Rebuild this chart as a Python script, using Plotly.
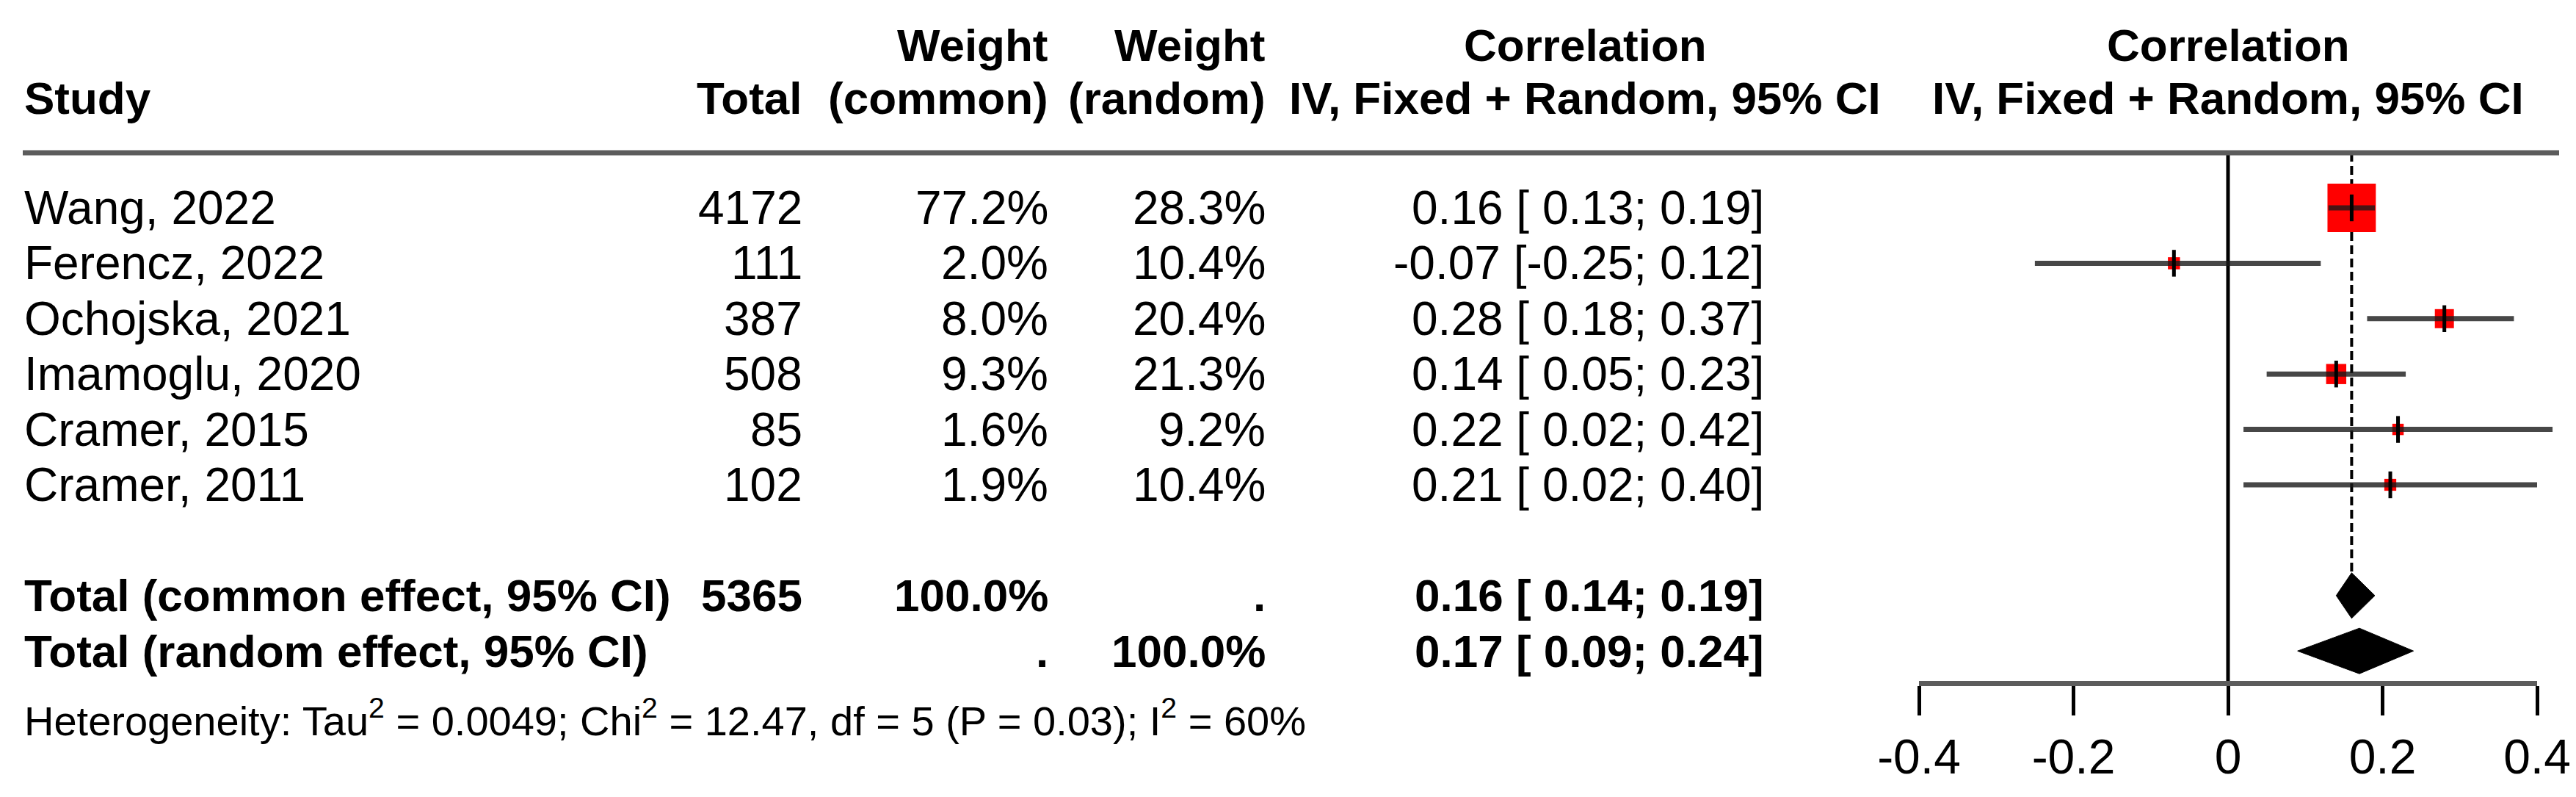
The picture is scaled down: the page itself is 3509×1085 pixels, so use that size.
import math
import plotly.graph_objects as go

# ---------------- data ----------------
studies = ["Wang, 2022", "Ferencz, 2022", "Ochojska, 2021", "Imamoglu, 2020", "Cramer, 2015", "Cramer, 2011"]
totals = [4172, 111, 387, 508, 85, 102]
w_common = [77.2, 2.0, 8.0, 9.3, 1.6, 1.9]
w_random = [28.3, 10.4, 20.4, 21.3, 9.2, 10.4]
est = [0.16, -0.07, 0.28, 0.14, 0.22, 0.21]
lo = [0.13, -0.25, 0.18, 0.05, 0.02, 0.02]
hi = [0.19, 0.12, 0.37, 0.23, 0.42, 0.40]

pooled_labels = ["Total (common effect, 95% CI)", "Total (random effect, 95% CI)"]
pooled_total = ["5365", ""]
pooled_wc = ["100.0%", "."]
pooled_wr = [".", "100.0%"]
pooled_est = [0.16, 0.17]
pooled_lo = [0.14, 0.09]
pooled_hi = [0.19, 0.24]

tick_vals = [-0.4, -0.2, 0, 0.2, 0.4]
tick_text = ["-0.4", "-0.2", "0", "0.2", "0.4"]

heterogeneity = ("Heterogeneity: Tau<sup>2</sup> = 0.0049; Chi<sup>2</sup> = 12.47, "
                 "df = 5 (P = 0.03); I<sup>2</sup> = 60%")

# ---------------- layout geometry ----------------
W, H = 3509, 1085
X0_PX, PPU = 3027, 1052.5          # pixel of x=0 and pixels per unit
ROW0_PX, ROW_PX = 275, 75.4        # pixel of first study row, row spacing


def R(px):
    return (px - ROW0_PX) / ROW_PX


def P(px):
    return px / W


FONT = "Liberation Sans, Arial, sans-serif"
REG, BOLD, SMALL = 64, 62, 56

n = len(studies)
rows = list(range(n))
pooled_rows = [n + 1, n + 2]
r_h1, r_h2, r_line = R(53), R(125), R(200)
r_axis = R(922)
r_het = R(969)
dia_half = 31 / ROW_PX

col_study = P(23)
col_total = P(1087)
col_wc = P(1422)
col_wr = P(1718)
col_ci = P(2397)
col_ci_head = P(2151)
forest_mid = (tick_vals[0] + tick_vals[-1]) / 2

fig = go.Figure()

# zero line
fig.add_trace(go.Scatter(x=[0, 0], y=[r_line, r_axis], mode="lines",
                         line=dict(color="black", width=5), hoverinfo="skip"))
# common-effect dashed line
fig.add_trace(go.Scatter(x=[pooled_est[0]] * 2, y=[r_line, pooled_rows[0] - dia_half], mode="lines",
                         line=dict(color="black", width=4, dash="12px,6px"), hoverinfo="skip"))

# squares
sizes = [6.7 * math.sqrt(w) + 7 for w in w_common]
fig.add_trace(go.Scatter(x=est, y=rows, mode="markers", opacity=1,
                         marker=dict(symbol="square", size=sizes, color="rgb(255,0,0)", opacity=1,
                                     line=dict(width=0)),
                         hoverinfo="skip"))
# CI lines
cx, cy = [], []
for r, a, b in zip(rows, lo, hi):
    cx += [a, b, None]
    cy += [r, r, None]
fig.add_trace(go.Scatter(x=cx, y=cy, mode="lines",
                         line=dict(color="rgba(25,25,25,0.8)", width=7), hoverinfo="skip"))
# point ticks
fig.add_trace(go.Scatter(x=est, y=rows, mode="markers",
                         marker=dict(symbol="line-ns", size=26, opacity=1, line=dict(width=5, color="black")),
                         hoverinfo="skip"))

# diamonds
for r, e, a, b in zip(pooled_rows, pooled_est, pooled_lo, pooled_hi):
    fig.add_trace(go.Scatter(x=[a, e, b, e, a], y=[r, r - dia_half, r, r + dia_half, r],
                             mode="lines", fill="toself", fillcolor="black",
                             line=dict(color="black", width=1), hoverinfo="skip"))

# dummy trace for the tick axis
fig.add_trace(go.Scatter(x=[tick_vals[0]], y=[0], xaxis="x2", yaxis="y", mode="markers",
                         marker=dict(opacity=0), hoverinfo="skip", showlegend=False))

ann = []


def txt(x, y, s, anchor, size=REG, bold=False, xref="paper"):
    ann.append(dict(x=x, y=y, xref=xref, yref="y", text=s, showarrow=False,
                    xanchor=anchor, yanchor="middle",
                    font=dict(family=FONT, size=size, color="black",
                              weight="bold" if bold else "normal")))


# headers
txt(col_wc, r_h1, "Weight", "right", BOLD, True)
txt(col_wr, r_h1, "Weight", "right", BOLD, True)
txt(col_ci_head, r_h1, "Correlation", "center", BOLD, True)
txt(forest_mid, r_h1, "Correlation", "center", BOLD, True, xref="x")
txt(col_study, r_h2, "Study", "left", BOLD, True)
txt(col_total, r_h2, "Total", "right", BOLD, True)
txt(col_wc, r_h2, "(common)", "right", BOLD, True)
txt(col_wr, r_h2, "(random)", "right", BOLD, True)
txt(col_ci_head, r_h2, "IV, Fixed + Random, 95% CI", "center", BOLD, True)
txt(forest_mid, r_h2, "IV, Fixed + Random, 95% CI", "center", BOLD, True, xref="x")


def ci_str(e, a, b):
    return f"{e:.2f} [{a:5.2f}; {b:.2f}]"


for r, s, t, wc, wr, e, a, b in zip(rows, studies, totals, w_common, w_random, est, lo, hi):
    txt(col_study, r, s, "left")
    txt(col_total, r, str(t), "right")
    txt(col_wc, r, f"{wc:.1f}%", "right")
    txt(col_wr, r, f"{wr:.1f}%", "right")
    txt(col_ci, r, ci_str(e, a, b), "right")

for r, s, t, wc, wr, e, a, b in zip(pooled_rows, pooled_labels, pooled_total, pooled_wc, pooled_wr,
                                    pooled_est, pooled_lo, pooled_hi):
    txt(col_study, r, s, "left", BOLD, True)
    if t:
        txt(col_total, r, t, "right", BOLD, True)
    txt(col_wc, r, wc, "right", BOLD, True)
    txt(col_wr, r, wr, "right", BOLD, True)
    txt(col_ci, r, ci_str(e, a, b), "right", BOLD, True)

txt(col_study, r_het, heterogeneity, "left", SMALL)

shapes = [dict(type="line", xref="paper", yref="y", x0=P(23), x1=P(3478), y0=r_line, y1=r_line,
               line=dict(color="#5c5c5c", width=7))]

fig.update_layout(
    template="none",
    width=W, height=H, margin=dict(l=0, r=0, t=0, b=0, pad=0, autoexpand=False),
    paper_bgcolor="white", plot_bgcolor="rgba(0,0,0,0)", showlegend=False,
    annotations=ann, shapes=shapes,
    xaxis=dict(domain=[0, 1], range=[(0 - X0_PX) / PPU, (W - X0_PX) / PPU], visible=False,
               fixedrange=True, automargin=False),
    yaxis=dict(domain=[0, 1], range=[R(H), R(0)], visible=False, fixedrange=True, automargin=False),
    xaxis2=dict(domain=[(X0_PX + tick_vals[0] * PPU) / W, (X0_PX + tick_vals[-1] * PPU) / W],
                range=[tick_vals[0], tick_vals[-1]], anchor="free", position=1 - 922 / H,
                automargin=False,
                showline=True, linewidth=7, linecolor="#5c5c5c", showgrid=False, zeroline=False,
                ticks="outside", ticklen=40, tickwidth=5, tickcolor="black",
                tickvals=tick_vals, ticktext=tick_text,
                tickfont=dict(family=FONT, size=66, color="black"), fixedrange=True),
)

fig.write_html("out.html")
